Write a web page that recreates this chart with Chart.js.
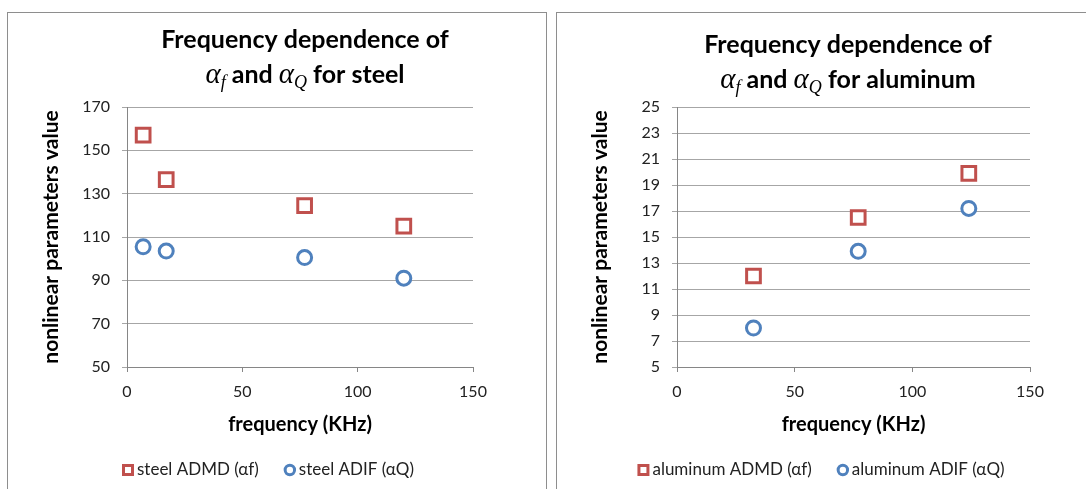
<!DOCTYPE html>
<html>
<head>
<meta charset="utf-8">
<title>Frequency dependence of alpha_f and alpha_Q</title>
<script src="https://cdn.jsdelivr.net/npm/chart.js@4.4.1/dist/chart.umd.min.js"></script>
<style>
  body { margin: 0; background: #fff; width: 1086px; height: 489px; overflow: hidden; position: relative; }
  .box { position: absolute; top: 12px; border: 1px solid #8e8e8e; border-bottom: none; background: #fff; height: 500px; }
  #boxSteel { left: 7px; width: 538px; }
  #boxAl { left: 556px; width: 540px; border-right: none; }
  canvas { display: block; }
</style>
</head>
<body>
<div class="box" id="boxSteel"><canvas id="steelChart" width="538" height="476"></canvas></div>
<div class="box" id="boxAl"><canvas id="alChart" width="529" height="476"></canvas></div>

<script>
// data
const steelFreq = [7, 17, 77, 120];
const steelADMD = [157, 136.5, 124.5, 115];
const steelADIF = [105.5, 103.5, 100.5, 91];

const alFreq = [32.5, 77, 124];
const alADMD = [12, 16.5, 19.9];
const alADIF = [8, 13.9, 17.2];

const freqTicks = [0, 50, 100, 150];
const steelTicks = [50, 70, 90, 110, 130, 150, 170];
const alTicks = [5, 7, 9, 11, 13, 15, 17, 19, 21, 23, 25];

const RED = "#C0504D";
const BLUE = "#4F81BD";
const FONT = "Lato";

// title with the math alphas
const mathTitle = {
  id: "mathTitle",
  afterDraw(chart, args, opts) {
    const ctx = chart.ctx;
    ctx.save();
    ctx.fillStyle = "#000";
    ctx.textBaseline = "alphabetic";
    ctx.textAlign = "left";
    const bold = "bold 25px " + FONT;
    ctx.font = bold;
    const w1 = ctx.measureText(opts.line1).width;
    ctx.fillText(opts.line1, opts.x - w1 / 2, opts.y1);

    const greek = 'italic 29px "Liberation Serif"';
    const sub = 'italic 18px "Liberation Serif"';
    const segs = [
      { t: "\u03B1", f: greek, dy: 0 },
      { t: "f", f: sub, dy: 5 },
      { t: " and ", f: bold, dy: 0 },
      { t: "\u03B1", f: greek, dy: 0 },
      { t: "Q", f: sub, dy: 5 },
      { t: " " + opts.tail, f: bold, dy: 0 },
    ];
    let total = 0;
    segs.forEach((s) => { ctx.font = s.f; s.w = ctx.measureText(s.t).width; total += s.w; });
    let x = opts.x - total / 2;
    segs.forEach((s) => {
      ctx.font = s.f;
      ctx.fillText(s.t, x, opts.y2 + s.dy);
      x += s.w;
    });
    ctx.restore();
  },
};

// legend row under the x axis title
const bottomLegend = {
  id: "bottomLegend",
  afterDraw(chart, args, opts) {
    const ctx = chart.ctx;
    ctx.save();
    ctx.font = "17px " + FONT;
    ctx.textBaseline = "middle";
    ctx.fillStyle = "#222";
    const items = chart.data.datasets.map((ds) => ({ ds, w: ctx.measureText(ds.label).width }));
    const mark = 12, gapText = 3, gapItem = 25;
    let total = 0;
    items.forEach((it, i) => { total += mark + gapText + it.w + (i ? gapItem : 0); });
    let x = opts.x - total / 2;
    const y = opts.y;
    items.forEach((it, i) => {
      if (i) x += gapItem;
      ctx.strokeStyle = it.ds.borderColor;
      ctx.fillStyle = "#fff";
      ctx.lineWidth = 3;
      ctx.beginPath();
      if (it.ds.pointStyle === "rect") {
        ctx.rect(x + 1.5, y - mark / 2 + 1.5, mark - 3, mark - 3);
      } else {
        ctx.arc(x + mark / 2, y, mark / 2 - 1.3, 0, Math.PI * 2);
      }
      ctx.fill();
      ctx.stroke();
      ctx.fillStyle = "#222";
      ctx.fillText(it.ds.label, x + mark + gapText, y);
      x += mark + gapText + it.w;
    });
    ctx.restore();
  },
};

function toPoints(xs, ys) {
  return xs.map((x, i) => ({ x: x, y: ys[i] }));
}

function makeChart(id, cfg) {
  const yTicks = cfg.yTicks;
  return new Chart(document.getElementById(id), {
    type: "scatter",
    data: {
      datasets: [
        {
          label: cfg.labels[0],
          data: toPoints(cfg.freq, cfg.admd),
          pointStyle: "rect",
          pointRadius: 9.7,
          pointHoverRadius: 9.7,
          borderColor: RED,
          backgroundColor: "#fff",
          borderWidth: 3,
        },
        {
          label: cfg.labels[1],
          data: toPoints(cfg.freq, cfg.adif),
          pointStyle: "circle",
          pointRadius: 7,
          pointHoverRadius: 7,
          borderColor: BLUE,
          backgroundColor: "#fff",
          borderWidth: 3,
        },
      ],
    },
    options: {
      responsive: false,
      animation: false,
      events: [],
      layout: { padding: { left: 27, top: 94, right: cfg.padRight, bottom: 48 } },
      plugins: {
        legend: { display: false },
        tooltip: { enabled: false },
        mathTitle: cfg.title,
        bottomLegend: { x: cfg.legendX, y: 457 },
      },
      scales: {
        x: {
          type: "linear",
          min: freqTicks[0],
          max: freqTicks[freqTicks.length - 1],
          ticks: { stepSize: freqTicks[1] - freqTicks[0], padding: 10, color: "#222", font: { family: FONT, size: 16 } },
          grid: { drawOnChartArea: false, tickLength: 5, color: "#868686" },
          border: { color: "#868686" },
          title: { display: true, text: "frequency (KHz)", color: "#000", font: { family: FONT, size: 20, weight: "bold" } },
          afterFit(scale) { scale.height = 74; },
        },
        y: {
          min: yTicks[0],
          max: yTicks[yTicks.length - 1],
          ticks: { stepSize: yTicks[1] - yTicks[0], padding: 12, color: "#222", font: { family: FONT, size: 16 } },
          grid: { color: "#a6a6a6", tickLength: 5 },
          border: { color: "#868686" },
          title: { display: true, text: "nonlinear parameters value", color: "#000", font: { family: FONT, size: 21, weight: "bold" } },
          afterFit(scale) { scale.width = cfg.yWidth; },
        },
      },
    },
    plugins: [mathTitle, bottomLegend],
  });
}

makeChart("steelChart", {
  freq: steelFreq,
  admd: steelADMD,
  adif: steelADIF,
  yTicks: steelTicks,
  labels: ["steel ADMD (\u03B1f)", "steel ADIF (\u03B1Q)"],
  padRight: 73,
  yWidth: 92,
  legendX: 260,
  title: { x: 297, y1: 35, y2: 70, line1: "Frequency dependence of", tail: "for steel" },
});

makeChart("alChart", {
  freq: alFreq,
  admd: alADMD,
  adif: alADIF,
  yTicks: alTicks,
  labels: ["aluminum ADMD (\u03B1f)", "aluminum ADIF (\u03B1Q)"],
  padRight: 56,
  yWidth: 93,
  legendX: 264,
  title: { x: 291, y1: 40, y2: 75, line1: "Frequency dependence of", tail: "for aluminum" },
});
</script>
</body>
</html>
